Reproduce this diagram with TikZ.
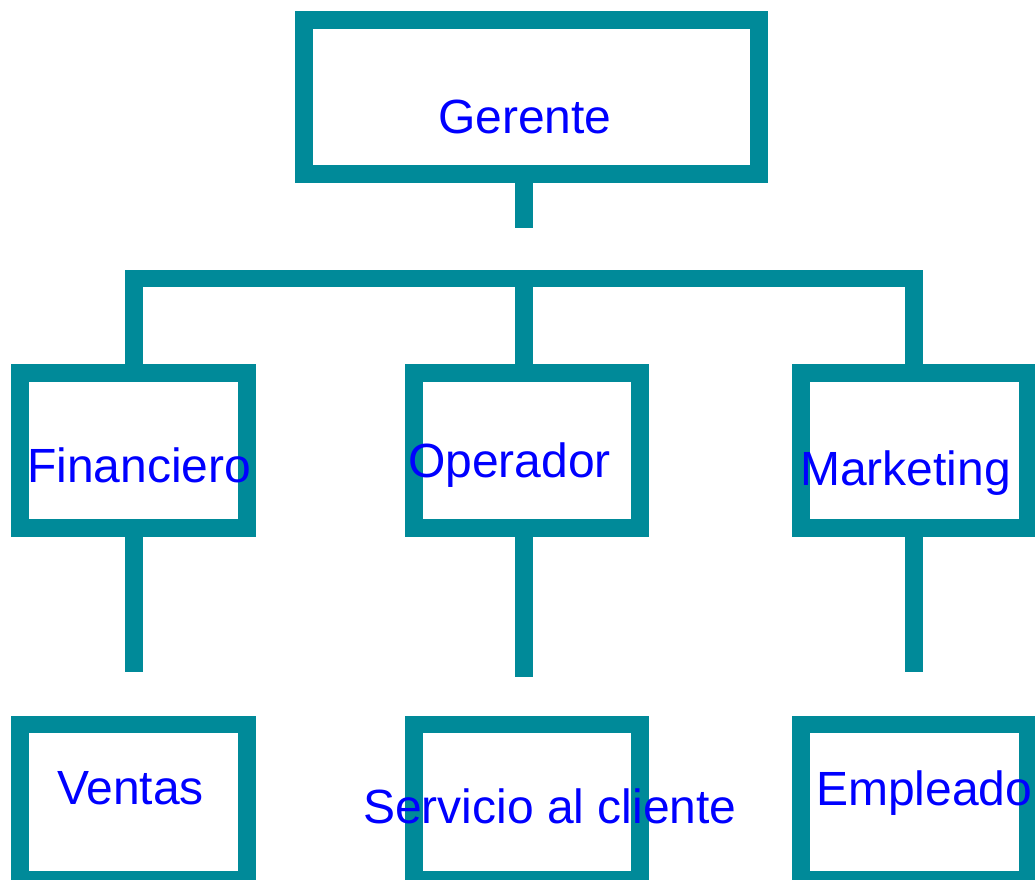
\documentclass[tikz,border=0pt]{standalone}
\usepackage{fontspec}
\setmainfont{Liberation Sans}
\definecolor{teal}{RGB}{0,138,153}
\definecolor{txtblue}{RGB}{0,0,255}
\tikzset{
  box/.style={draw=teal, line width=17.5pt, rectangle, inner sep=0pt, minimum width=227pt, minimum height=155pt},
  link/.style={draw=teal, line width=17.5pt, line cap=butt, line join=miter},
  lbl/.style={anchor=base west, inner sep=0pt, text=txtblue, font=\fontsize{48}{50}\selectfont}
}
\begin{document}
\begin{tikzpicture}[x=1pt,y=-1pt]
\useasboundingbox (0,0) rectangle (1035,879);
% boxes
\node[box, minimum width=455pt, minimum height=154pt] (ger) at (531.5,97) {};
\node[box] (fin) at (133.5,450.5) {};
\node[box, minimum width=226pt] (ope) at (527,450.5) {};
\node[box] (mkt) at (914.5,450.5) {};
\node[box] (ven) at (133.5,802) {};
\node[box, minimum width=226pt] (ser) at (527,802) {};
\node[box] (emp) at (914.5,802) {};
% free ends and junction
\coordinate (gstub) at (524,228);
\coordinate (bar) at (524,278.5);
\coordinate (fstub) at (134,672);
\coordinate (ostub) at (524,677);
\coordinate (mstub) at (914,672);
% connectors
\draw[link] (ger.south -| gstub) -- (gstub);
\draw[link] (fin.north -| fstub) |- (bar) -| (mkt.north -| mstub);
\draw[link] (bar) -- (ope.north -| bar);
\draw[link] (fin.south -| fstub) -- (fstub);
\draw[link] (ope.south -| ostub) -- (ostub);
\draw[link] (mkt.south -| mstub) -- (mstub);
% labels
\node[lbl] (tger) at (438,133) {Gerente};
\node[lbl] (tfin) at (27,482) {Financiero};
\node[lbl] (tope) at (408,477) {Operador};
\node[lbl] (tmkt) at (800,485) {Marketing};
\node[lbl] (tven) at (57,804) {Ventas};
\node[lbl] (tser) at (363,823) {Servicio al cliente};
\node[lbl] (temp) at (816,805) {Empleado};
\end{tikzpicture}
\end{document}
